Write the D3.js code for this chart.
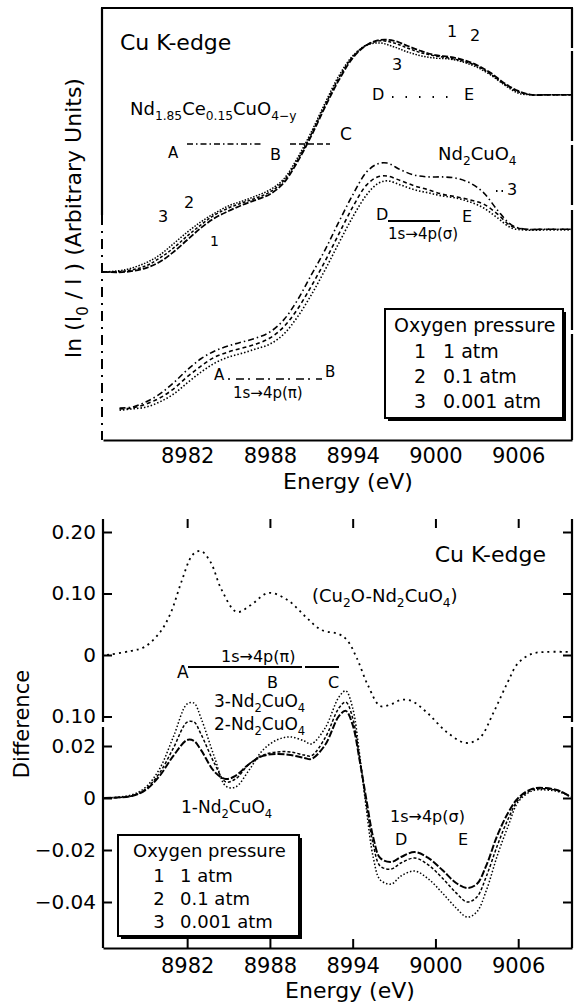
<!DOCTYPE html>
<html><head><meta charset="utf-8">
<script src="https://cdn.jsdelivr.net/npm/d3@7"></script>
<style>
body{margin:0;background:#fff;}
svg{display:block;background:#fff;font-family:"DejaVu Sans",sans-serif;}
</style></head><body>
<svg id="c" width="576" height="1008"></svg>
<script>
// ---------------- DATA ----------------
const energyTicks = [8982, 8988, 8994, 9000, 9006];

// Upper panel: Nd1.85Ce0.15CuO4-y (arbitrary units)
const ceEnergy = [8975.9,8977.5,8979,8980,8981,8982,8983,8984,8985,8986,8987,8988,8989,8990,8991,8992,8993,8994,8995,8996,8997,8998,8999,9000,9001,9002,9003,9004,9005,9006,9007,9008,9009.9];
const ce1 = [3.89,3.89,3.98,4.12,4.35,4.63,4.91,5.14,5.30,5.44,5.56,5.69,5.95,6.44,7.04,7.71,8.33,8.84,9.14,9.26,9.24,9.12,9.00,8.91,8.87,8.80,8.68,8.50,8.26,8.08,7.99,7.99,7.99];
const ce2 = [3.89,3.91,4.03,4.21,4.44,4.72,4.98,5.21,5.37,5.49,5.60,5.74,6.00,6.48,7.08,7.75,8.38,8.87,9.14,9.24,9.19,9.07,8.96,8.89,8.84,8.77,8.66,8.47,8.24,8.06,7.99,7.99,7.99];
const ce3 = [3.89,3.94,4.10,4.28,4.54,4.81,5.05,5.25,5.42,5.53,5.65,5.79,6.04,6.53,7.13,7.80,8.43,8.89,9.14,9.19,9.10,8.98,8.89,8.84,8.82,8.75,8.63,8.45,8.22,8.03,7.99,7.99,7.99];

// Upper panel: Nd2CuO4
const ndEnergy = [8977.1,8978,8979,8980,8981,8982,8983,8984,8985,8986,8987,8988,8989,8990,8991,8992,8993,8994,8995,8995.8,8996.5,8997.5,8998.5,8999.5,9000.5,9001.5,9002.5,9003.5,9004.5,9005.5,9006.5,9008,9009.9];
const nd1 = [0.74,0.76,0.88,1.06,1.32,1.62,1.88,2.06,2.18,2.27,2.36,2.50,2.78,3.24,3.82,4.40,5.05,5.67,6.20,6.39,6.41,6.25,6.13,6.09,6.09,6.06,5.95,5.72,5.32,4.98,4.88,4.88,4.88];
const nd2 = [0.72,0.74,0.83,0.97,1.18,1.46,1.71,1.92,2.04,2.13,2.22,2.36,2.62,3.03,3.56,4.14,4.77,5.39,5.90,6.09,6.11,6.00,5.88,5.79,5.69,5.63,5.56,5.46,5.23,4.95,4.88,4.88,4.88];
const nd3 = [0.69,0.72,0.76,0.88,1.06,1.32,1.57,1.78,1.92,2.01,2.11,2.22,2.45,2.85,3.36,3.94,4.56,5.16,5.67,5.93,6.00,5.90,5.79,5.72,5.65,5.60,5.51,5.37,5.14,4.91,4.86,4.86,4.86];

// Lower panel: Cu2O - Nd2CuO4 difference (upper scale)
const cuEnergy = [8976.2,8977.9,8978.9,8980.0,8980.8,8981.6,8982.4,8983.0,8983.7,8984.5,8985.6,8986.6,8987.9,8989.3,8990.6,8991.7,8993.0,8993.6,8994.3,8995.1,8996.0,8996.8,8997.5,8998.3,8999.5,9000.8,9002.2,9003.2,9004.2,9005.2,9006.0,9007.0,9008.0,9009.6];
const cuDiff = [0,0.0065,0.013,0.036,0.068,0.120,0.163,0.169,0.151,0.106,0.070,0.081,0.101,0.089,0.062,0.041,0.034,0.024,-0.005,-0.049,-0.083,-0.080,-0.073,-0.075,-0.096,-0.125,-0.143,-0.135,-0.094,-0.046,-0.013,0.002,0.005,0.005];

// Lower panel: n-Nd2CuO4 differences (lower scale)
const diffEnergy = [8976,8978,8979,8980,8981,8982,8982.5,8983,8984,8984.8,8985.5,8986.5,8987.5,8988.5,8989.5,8990.5,8991,8992,8993,8993.5,8994,8994.5,8995,8995.5,8996,8996.8,8997.5,8998.5,8999.5,9000.5,9001.5,9002.3,9003,9003.7,9004.5,9005.3,9006,9007,9008,9009,9009.8];
const diff1 = [0,0.0008,0.0031,0.0085,0.0162,0.0223,0.0219,0.0185,0.0100,0.0073,0.0085,0.0131,0.0162,0.0169,0.0165,0.0154,0.0150,0.0204,0.0315,0.0335,0.0281,0.0146,-0.0008,-0.0154,-0.0231,-0.0246,-0.0227,-0.0208,-0.0231,-0.0277,-0.0327,-0.0346,-0.0331,-0.0258,-0.0142,-0.0054,0,0.0035,0.0038,0.0027,0.0004];
const diff2 = [0,0.0008,0.0035,0.0096,0.0192,0.0292,0.0292,0.0246,0.0131,0.0062,0.0073,0.0131,0.0165,0.0177,0.0177,0.0165,0.0162,0.0231,0.0346,0.0369,0.0308,0.0154,-0.0027,-0.0181,-0.0262,-0.0273,-0.0250,-0.0231,-0.0258,-0.0308,-0.0365,-0.0400,-0.0381,-0.0300,-0.0181,-0.0077,-0.0008,0.0031,0.0035,0.0027,0.0004];
const diff3 = [0,0.0012,0.0042,0.0112,0.0235,0.0362,0.0365,0.0308,0.0154,0.0046,0.0042,0.0108,0.0185,0.0223,0.0235,0.0219,0.0208,0.0269,0.0388,0.0412,0.0346,0.0169,-0.0046,-0.0231,-0.0315,-0.0331,-0.0300,-0.0281,-0.0312,-0.0365,-0.0423,-0.0458,-0.0438,-0.0354,-0.0219,-0.0104,-0.0015,0.0027,0.0031,0.0023,0.0004];

const topTickVals = [0.20, 0.10, 0, -0.10];
const topTickLabels = ["0.20", "0.10", "0", "0.10"];
const botTickVals = [0.02, 0, -0.02, -0.04];
const botTickLabels = ["0.02", "0", "\u22120.02", "\u22120.04"];
const legendItems = [["1", "1 atm"], ["2", "0.1 atm"], ["3", "0.001 atm"]];

// ---------------- DRAWING ----------------
const FONT = '"DejaVu Sans", sans-serif';
const svg = d3.select("#c");

const xU = d3.scaleLinear().domain([8975.9, 9009.9]).range([103, 572]);
const yU = d3.scaleLinear().domain([0, 10]).range([440, 8]);
const xL = xU.copy();
const yLt = d3.scaleLinear().domain([-0.10, 0.20]).range([716.5, 532]);
const yLb = d3.scaleLinear().domain([-0.04, 0.02]).range([902, 746]);

function seg(x1, y1, x2, y2, w, dash) {
  const l = svg.append("line").attr("x1", x1).attr("y1", y1).attr("x2", x2).attr("y2", y2)
    .attr("stroke", "#000").attr("stroke-width", w || 2);
  if (dash) l.attr("stroke-dasharray", dash);
  return l;
}
function txt(x, y, s, size, anchor) {
  return svg.append("text").attr("x", x).attr("y", y).attr("font-size", size)
    .attr("text-anchor", anchor || "start").attr("fill", "#000").text(s);
}
function rich(x, y, parts, size, anchor, g) {
  const t = (g || svg).append("text").attr("x", x).attr("y", y).attr("font-size", size)
    .attr("text-anchor", anchor || "start").attr("fill", "#000");
  let prev = false;
  parts.forEach(([s, sub]) => {
    const ts = t.append("tspan").text(s);
    if (sub && !prev) ts.attr("font-size", size * 0.68).attr("dy", size * 0.3);
    else if (sub) ts.attr("font-size", size * 0.68);
    else if (!sub && prev) ts.attr("dy", -size * 0.3);
    prev = !!sub;
  });
  return t;
}
function curve(xs, ys, X, Y, w, dash) {
  const line = d3.line().x((d, i) => X(xs[i])).y(d => Y(d)).curve(d3.curveCatmullRom.alpha(0.5));
  const p = svg.append("path").datum(ys).attr("d", line).attr("fill", "none")
    .attr("stroke", "#000").attr("stroke-width", w);
  if (dash) p.attr("stroke-dasharray", dash);
}
function styleAxis(g, size) {
  g.selectAll("text").attr("font-size", size).attr("font-family", FONT).attr("fill", "#000");
  g.selectAll("line").attr("stroke", "#000").attr("stroke-width", 2);
  g.select(".domain").attr("stroke", "#000").attr("stroke-width", 2.2);
}

// ===== UPPER PANEL =====
seg(101, 8, 573, 8, 2.2);
seg(102, 8, 102, 215, 2.2);
seg(102, 215, 102, 440, 2, "10,6,2,6");
seg(572, 8, 572, 440, 2.2, "40,3,90,4,60,5,120,4,200");

const gUx = svg.append("g").attr("transform", "translate(0,440)")
  .call(d3.axisBottom(xU).tickValues(energyTicks).tickSize(0).tickSizeOuter(0).tickPadding(8).tickFormat(d3.format("d")));
styleAxis(gUx, 21);
txt(348, 489, "Energy (eV)", 22, "middle");

rich(0, 0, [["ln (I", 0], ["0", 1], [" / I ) (Arbitrary Units)", 0]], 22, "middle")
  .attr("transform", "translate(81,218) rotate(-90)");

curve(ceEnergy, ce1, xU, yU, 1.8, "6,2");
curve(ceEnergy, ce2, xU, yU, 1.5, "3,2");
curve(ceEnergy, ce3, xU, yU, 1.5, "1.5,1.5");
curve(ndEnergy, nd1, xU, yU, 1.6, "6,3,1.5,3");
curve(ndEnergy, nd2, xU, yU, 1.6, "4,3");
curve(ndEnergy, nd3, xU, yU, 1.6, "1.5,2");

txt(120, 50, "Cu  K-edge", 22);
rich(130, 115, [["Nd", 0], ["1.85", 1], ["Ce", 0], ["0.15", 1], ["CuO", 0], ["4\u2212y", 1]], 18);
txt(168, 158, "A", 15);
seg(187, 144, 262, 144, 1.6, "6,3,1.5,3");
txt(270, 160, "B", 16);
seg(290, 144, 330, 144, 1.6, "6,3");
txt(340, 140, "C", 17);
txt(158, 222, "3", 16);
txt(184, 208, "2", 16);
txt(210, 246, "1", 14);
txt(447, 37, "1", 16);
txt(470, 41, "2", 16);
txt(392, 70, "3", 16);
txt(372, 100, "D", 16);
seg(392, 97, 458, 97, 2, "1.5,12");
txt(464, 100, "E", 16);
rich(438, 160, [["Nd", 0], ["2", 1], ["CuO", 0], ["4", 1]], 18);
seg(496, 191, 503, 191, 2, "1.5,4");
txt(507, 195, "3", 16);
txt(376, 220, "D", 16);
seg(388, 221, 440, 221, 2.2);
txt(462, 222, "E", 16);
txt(388, 239, "1s\u21924p(\u03c3)", 15);
txt(214, 380, "A", 15);
seg(228, 379, 322, 379, 1.6, "2,6,8,4");
txt(325, 377, "B", 15);
txt(233, 398, "1s\u21924p(\u03c0)", 15);

// upper legend
svg.append("rect").attr("x", 388).attr("y", 312).attr("width", 178).attr("height", 109).attr("fill", "#000");
svg.append("rect").attr("x", 385).attr("y", 309).attr("width", 178).attr("height", 109)
  .attr("fill", "#fff").attr("stroke", "#000").attr("stroke-width", 2);
txt(394, 332, "Oxygen pressure", 19);
legendItems.forEach(([n, v], i) => {
  txt(420, 358 + i * 25, n, 19, "middle");
  txt(443, 358 + i * 25, v, 19);
});

// ===== LOWER PANEL =====
const gLx = svg.append("g").attr("transform", "translate(0,948)")
  .call(d3.axisBottom(xL).tickValues(energyTicks).tickSize(-9).tickSizeOuter(0).tickPadding(10).tickFormat(d3.format("d")));
styleAxis(gLx, 21);
const gLtop = svg.append("g").attr("transform", "translate(0,519)")
  .call(d3.axisTop(xL).tickValues(energyTicks).tickSize(-9).tickFormat(""));
styleAxis(gLtop, 10); gLtop.select(".domain").remove();
txt(350, 998, "Energy (eV)", 22, "middle");

seg(103, 519, 103, 722, 2.2); seg(103, 727, 103, 948, 2.2);
seg(572, 519, 572, 722, 2.2); seg(572, 727, 572, 948, 2.2);

const gLy1 = svg.append("g").attr("transform", "translate(103,0)")
  .call(d3.axisLeft(yLt).tickValues(topTickVals).tickSize(-9).tickPadding(7).tickFormat((d, i) => topTickLabels[i]));
styleAxis(gLy1, 20); gLy1.select(".domain").remove();
const gLy2 = svg.append("g").attr("transform", "translate(103,0)")
  .call(d3.axisLeft(yLb).tickValues(botTickVals).tickSize(-9).tickPadding(7).tickFormat((d, i) => botTickLabels[i]));
styleAxis(gLy2, 20); gLy2.select(".domain").remove();
const gRy1 = svg.append("g").attr("transform", "translate(572,0)")
  .call(d3.axisRight(yLt).tickValues(topTickVals).tickSize(-9).tickFormat(""));
styleAxis(gRy1, 10); gRy1.select(".domain").remove();
const gRy2 = svg.append("g").attr("transform", "translate(572,0)")
  .call(d3.axisRight(yLb).tickValues(botTickVals).tickSize(-9).tickFormat(""));
styleAxis(gRy2, 10); gRy2.select(".domain").remove();

txt(0, 0, "Difference", 21, "middle").attr("transform", "translate(29,724) rotate(-90)");

curve(cuEnergy, cuDiff, xL, yLt, 1.8, "2,4");
curve(diffEnergy, diff1, xL, yLb, 2, "7,2");
curve(diffEnergy, diff2, xL, yLb, 1.5, "3,2");
curve(diffEnergy, diff3, xL, yLb, 1.5, "1.5,2");

txt(546, 562, "Cu K-edge", 22, "end");
rich(312, 602, [["(Cu", 0], ["2", 1], ["O-Nd", 0], ["2", 1], ["CuO", 0], ["4", 1], [")", 0]], 18);
txt(177, 678, "A", 17);
seg(188, 667, 302, 667, 2);
seg(305, 667, 339, 667, 2);
txt(221, 662, "1s\u21924p(\u03c0)", 16);
txt(267, 688, "B", 16);
txt(328, 688, "C", 16);
rich(214, 707, [["3-Nd", 0], ["2", 1], ["CuO", 0], ["4", 1]], 17);
rich(214, 730, [["2-Nd", 0], ["2", 1], ["CuO", 0], ["4", 1]], 17);
rich(181, 813, [["1-Nd", 0], ["2", 1], ["CuO", 0], ["4", 1]], 17);
txt(390, 822, "1s\u21924p(\u03c3)", 16);
txt(395, 845, "D", 16);
txt(458, 845, "E", 16);

// lower legend
svg.append("rect").attr("x", 121).attr("y", 838).attr("width", 181).attr("height", 101).attr("fill", "#000");
svg.append("rect").attr("x", 118).attr("y", 835).attr("width", 181).attr("height", 101)
  .attr("fill", "#fff").attr("stroke", "#000").attr("stroke-width", 2);
txt(133, 857, "Oxygen pressure", 18);
legendItems.forEach(([n, v], i) => {
  txt(159, 882 + i * 23, n, 18, "middle");
  txt(180, 882 + i * 23, v, 18);
});
</script>
</body></html>
